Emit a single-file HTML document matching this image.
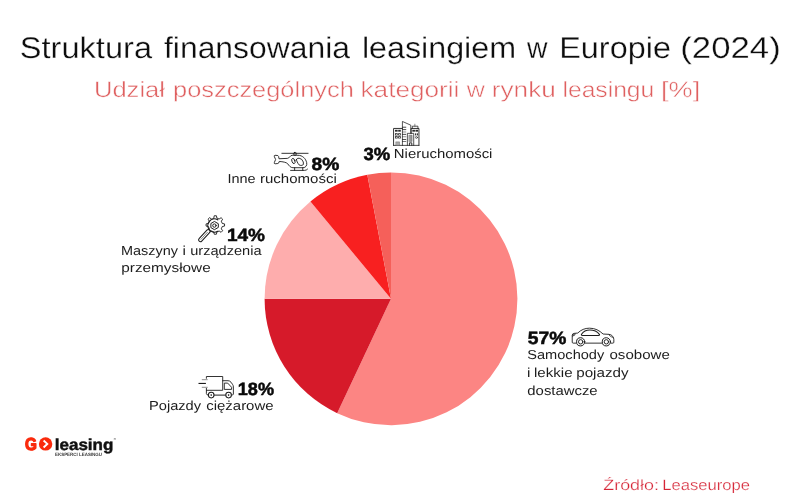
<!DOCTYPE html>
<html lang="pl">
<head>
<meta charset="utf-8">
<title>Struktura finansowania leasingiem w Europie (2024)</title>
<style>
html,body{margin:0;padding:0;background:#fff;}
body{width:800px;height:500px;overflow:hidden;position:relative;font-family:"Liberation Sans",sans-serif;}
svg{position:absolute;left:0;top:0;display:block;will-change:transform;}
text{font-family:"Liberation Sans",sans-serif;text-rendering:geometricPrecision;}
.t{fill:#0d0d0d;}
.lbl{font-size:13px;fill:#1c1c1c;}
.pct{font-size:17.7px;font-weight:bold;fill:#0a0a0a;stroke:#0a0a0a;stroke-width:0.5px;}
.ic{fill:none;stroke:#1d1d1d;stroke-width:0.9;stroke-linecap:round;stroke-linejoin:round;}
</style>
</head>
<body>
<svg width="800" height="500" viewBox="0 0 800 500">
<rect width="800" height="500" fill="#ffffff"/>

<!-- titles -->
<text id="title" class="t" stroke="#fff" stroke-width="0.3" y="57.7" font-size="30"><tspan id="tw0" x="19.80" textLength="132.22" lengthAdjust="spacingAndGlyphs">Struktura</tspan> <tspan id="tw1" x="164.00" textLength="186.00" lengthAdjust="spacingAndGlyphs">finansowania</tspan> <tspan id="tw2" x="361.95" textLength="154.14" lengthAdjust="spacingAndGlyphs">leasingiem</tspan> <tspan id="tw3" x="527.00" textLength="20.50" lengthAdjust="spacingAndGlyphs">w</tspan> <tspan id="tw4" x="559.25" textLength="111.66" lengthAdjust="spacingAndGlyphs">Europie</tspan> <tspan id="tw5" x="680.25" textLength="100.47" lengthAdjust="spacingAndGlyphs">(2024)</tspan></text>
<text id="sub" stroke="#fff" stroke-width="0.45" y="96.7" font-size="22" fill="#DF6060"><tspan id="sw0" x="93.95" textLength="71.05" lengthAdjust="spacingAndGlyphs">Udział</tspan> <tspan id="sw1" x="173.00" textLength="180.83" lengthAdjust="spacingAndGlyphs">poszczególnych</tspan> <tspan id="sw2" x="360.50" textLength="98.92" lengthAdjust="spacingAndGlyphs">kategorii</tspan> <tspan id="sw3" x="466.75" textLength="18.01" lengthAdjust="spacingAndGlyphs">w</tspan> <tspan id="sw4" x="491.80" textLength="64.00" lengthAdjust="spacingAndGlyphs">rynku</tspan> <tspan id="sw5" x="562.45" textLength="91.85" lengthAdjust="spacingAndGlyphs">leasingu</tspan> <tspan id="sw6" x="661.00" textLength="39.20" lengthAdjust="spacingAndGlyphs">[%]</tspan></text>

<!-- pie -->
<g id="pie">
<path d="M391.0,298.8 L391.00,172.40 A126.4,126.4 0 1 1 337.18,413.17 Z" fill="#FC8583"/>
<path d="M391.0,298.8 L337.18,413.17 A126.4,126.4 0 0 1 264.60,298.80 Z" fill="#D61A2A"/>
<path d="M391.0,298.8 L264.60,298.80 A126.4,126.4 0 0 1 310.43,201.41 Z" fill="#FEADAD"/>
<path d="M391.0,298.8 L310.43,201.41 A126.4,126.4 0 0 1 367.32,174.64 Z" fill="#F82020"/>
<path d="M391.0,298.8 L367.32,174.64 A126.4,126.4 0 0 1 391.00,172.40 Z" fill="#F5605A"/>
</g>

<!-- labels -->
<text id="p3" class="pct" x="363.50" y="159.6" textLength="26.75" lengthAdjust="spacingAndGlyphs">3%</text>
<text id="l3" class="lbl" x="393.85" y="158" textLength="98.57" lengthAdjust="spacingAndGlyphs">Nieruchomości</text>

<text id="p8" class="pct" x="311.45" y="169.8" textLength="27.81" lengthAdjust="spacingAndGlyphs">8%</text>
<text id="l8" class="lbl" y="183"><tspan id="l8w0" x="227.50" textLength="28.13" lengthAdjust="spacingAndGlyphs">Inne</tspan> <tspan id="l8w1" x="260.00" textLength="76.79" lengthAdjust="spacingAndGlyphs">ruchomości</tspan></text>

<text id="p14" class="pct" x="226.95" y="241.1" textLength="38.03" lengthAdjust="spacingAndGlyphs">14%</text>
<text id="l14a" class="lbl" y="254.7"><tspan id="l14aw0" x="121.00" textLength="57.02" lengthAdjust="spacingAndGlyphs">Maszyny</tspan> <tspan id="l14aw1" x="182.4" textLength="3.4" lengthAdjust="spacingAndGlyphs">i</tspan> <tspan id="l14aw2" x="190.25" textLength="71.26" lengthAdjust="spacingAndGlyphs">urządzenia</tspan></text>
<text id="l14b" class="lbl" x="121.35" y="272.2" textLength="89.31" lengthAdjust="spacingAndGlyphs">przemysłowe</text>

<text id="p18" class="pct" x="237.75" y="394.8" textLength="36.22" lengthAdjust="spacingAndGlyphs">18%</text>
<text id="l18" class="lbl" y="409.8"><tspan id="l18w0" x="149.00" textLength="52.02" lengthAdjust="spacingAndGlyphs">Pojazdy</tspan> <tspan id="l18w1" x="206.25" textLength="67.27" lengthAdjust="spacingAndGlyphs">ciężarowe</tspan></text>

<text id="p57" class="pct" x="527.75" y="344.1" textLength="38.51" lengthAdjust="spacingAndGlyphs">57%</text>
<text id="l57a" class="lbl" y="359"><tspan id="l57aw0" x="527.25" textLength="77.01" lengthAdjust="spacingAndGlyphs">Samochody</tspan> <tspan id="l57aw1" x="609.50" textLength="60.27" lengthAdjust="spacingAndGlyphs">osobowe</tspan></text>
<text id="l57b" class="lbl" y="376.5"><tspan id="l57bw0" x="527.0" textLength="3.4" lengthAdjust="spacingAndGlyphs">i</tspan> <tspan id="l57bw1" x="534.00" textLength="38.56" lengthAdjust="spacingAndGlyphs">lekkie</tspan> <tspan id="l57bw2" x="576.25" textLength="52.26" lengthAdjust="spacingAndGlyphs">pojazdy</tspan></text>
<text id="l57c" class="lbl" x="527.35" y="394.5" textLength="70.30" lengthAdjust="spacingAndGlyphs">dostawcze</text>

<!-- source -->
<text id="src" y="489.7" font-size="15" fill="#D62536" stroke="#fff" stroke-width="0.25"><tspan id="sr0" x="603.25" textLength="55.68" lengthAdjust="spacingAndGlyphs">Źródło:</tspan> <tspan id="sr1" x="662.30" textLength="87.80" lengthAdjust="spacingAndGlyphs">Leaseurope</tspan></text>

<!-- logo -->
<g id="logo">
<text id="lg" x="25.1" y="449.6" font-size="17.5" font-weight="bold" fill="#FA2A0C" stroke="#FA2A0C" stroke-width="1.3" stroke-linejoin="round" textLength="11.9" lengthAdjust="spacingAndGlyphs">G</text>
<circle id="lo" cx="45.6" cy="443.9" r="6.7" fill="#FA2A0C"/>
<path d="M43.6,440.5 L47.3,443.9 L43.6,447.5" fill="none" stroke="#ffffff" stroke-width="1.9" stroke-linejoin="miter"/>
<text id="leasing" x="54.75" y="450.1" font-size="15.9" font-weight="bold" fill="#111" stroke="#111" stroke-width="0.45" textLength="58.63" lengthAdjust="spacingAndGlyphs">leasing</text>
<text id="reg" x="113.8" y="440.2" font-size="3" fill="#333">®</text>
<text id="eksp" x="55.00" y="456.2" font-size="4.6" font-weight="bold" fill="#3a3a3a" textLength="47.00" lengthAdjust="spacingAndGlyphs">EKSPERCI LEASINGU</text>
</g>

<!-- ICONS -->
<g id="ico-building" class="ic" stroke-width="0.55" stroke="#2a2a2a" stroke-linecap="butt" stroke-linejoin="miter">
<path d="M393.58,145.39 L418.95,145.39" stroke-width="0.8"/>
<path d="M393.58,145.39 L393.58,128.45 L402.42,128.45"/>
<path d="M402.42,145.39 L402.42,121.44 L410.79,125.18 L410.79,133.35" stroke-width="0.75"/>
<path d="M402.42,127.22 L405.82,127.22" stroke-width="0.8"/>
<path d="M402.42,129.61 L405.82,129.61" stroke-width="0.8"/>
<path d="M402.42,131.99 L405.82,131.99" stroke-width="0.5"/>
<path d="M402.42,134.37 L405.82,134.37" stroke-width="0.8"/>
<path d="M402.42,136.75 L405.82,136.75" stroke-width="0.5"/>
<path d="M402.42,139.47 L405.82,139.47" stroke-width="0.8"/>
<path d="M402.42,141.51 L405.82,141.51" stroke-width="0.6"/>
<path d="M407.39,145.39 L407.39,133.35 L413.71,133.35 L413.71,145.39" stroke-width="0.75"/>
<rect x="409.22" y="135.18" width="2.86" height="6.26" fill="#999" stroke="#444" stroke-width="0.4"/>
<path d="M409.43,145.39 L409.43,142.87 L411.81,142.87 L411.81,145.39"/>
<path d="M411.13,133.35 L411.13,128.45 L418.95,128.45 L418.95,145.39"/>
<path d="M412.35,128.45 L412.35,126.20 L417.93,126.20 L417.93,128.45" stroke-width="0.75"/>
<path d="M414.87,126.20 L414.87,124.16" stroke-width="0.5"/>
<rect x="395.01" y="129.81" width="2.65" height="1.84" fill="#2a2a2a" stroke="none"/>
<rect x="395.01" y="133.21" width="2.65" height="2.24" fill="#2a2a2a" stroke="none"/>
<rect x="395.82" y="133.96" width="1.02" height="0.88" fill="#fff" stroke="none"/>
<rect x="395.01" y="136.14" width="2.65" height="2.31" fill="#2a2a2a" stroke="none"/>
<rect x="395.82" y="136.88" width="1.02" height="0.95" fill="#fff" stroke="none"/>
<rect x="398.20" y="129.81" width="2.59" height="1.84" fill="#2a2a2a" stroke="none"/>
<rect x="398.20" y="133.21" width="2.59" height="2.24" fill="#2a2a2a" stroke="none"/>
<rect x="399.02" y="133.96" width="0.95" height="0.88" fill="#fff" stroke="none"/>
<rect x="398.20" y="136.14" width="2.59" height="2.31" fill="#2a2a2a" stroke="none"/>
<rect x="399.02" y="136.88" width="0.95" height="0.95" fill="#fff" stroke="none"/>
<rect x="396.03" y="141.85" width="3.54" height="3.54" fill="#aaa" stroke="#555" stroke-width="0.4"/>
<rect x="412.35" y="129.81" width="2.59" height="1.84" fill="#2a2a2a" stroke="none"/>
<rect x="415.48" y="129.81" width="2.59" height="1.84" fill="#2a2a2a" stroke="none"/>
<rect x="415.07" y="133.35" width="1.09" height="2.04" fill="#2a2a2a" stroke="none"/>
<rect x="416.84" y="133.35" width="1.09" height="2.04" fill="#2a2a2a" stroke="none"/>
<circle cx="416.44" cy="137.43" r="1.0" stroke-width="0.6"/>
</g>
<g id="ico-heli" class="ic" stroke="#101010" stroke-width="1.2">
<path d="M281.87,153.32 L308.08,153.32"/>
<rect x="293.80" y="152.48" width="2.41" height="2.69" rx="0.7"/>
<path d="M278.96,158.36 Q278.85,155.84 277.84,155.56 L275.04,155.28 Q273.92,155.39 274.37,156.68 L275.60,159.48 L274.37,162.45 Q273.92,163.79 275.15,163.79 L277.84,163.51 Q278.96,163.40 279.24,161.44 C282.88,161.72 286.24,162.28 287.64,163.68 C289.04,165.64 290.44,167.71 292.96,167.71 L303.04,167.71 C305.84,167.71 307.24,165.36 306.68,162.67 C305.84,158.64 302.48,155.28 298.00,155.28 L292.12,155.28 C290.16,155.28 289.32,158.36 287.92,158.36 Z"/>
<ellipse cx="293.41" cy="160.99" rx="1.5" ry="2.7" transform="rotate(-20 293.41 160.99)"/>
<path d="M296.43,159.48 Q296.88,157.97 299.12,158.19 Q302.20,158.64 303.32,162.00 Q304.16,165.36 301.92,165.36 L300.24,165.36 Q298.84,165.25 298.00,163.40 Q296.21,160.60 296.43,159.48 Z"/>
<path d="M294.64,167.71 L294.64,170.40 M302.76,167.71 L302.76,170.40"/>
<path d="M290.61,170.40 L304.44,170.40 Q306.40,170.40 307.52,169.17"/>
</g>
<g id="ico-gear" class="ic" stroke="#0c0c0c" stroke-width="1.15">
<path d="M213.78,218.06 L214.23,215.76 L216.42,215.76 L216.88,218.06 L219.13,219.00 L221.09,217.69 L222.63,219.23 L221.32,221.19 L222.26,223.44 L224.56,223.90 L224.56,226.09 L222.26,226.54 L221.32,228.80 L222.63,230.75 L221.09,232.30 L219.13,230.99 L216.88,231.92 L216.42,234.23 L214.23,234.23 L213.78,231.92 L211.52,230.99 L209.57,232.30 L208.02,230.75 L209.33,228.80 L208.40,226.54 L206.09,226.09 L206.09,223.90 L208.40,223.44 L209.33,221.19 L208.02,219.23 L209.57,217.69 L211.52,219.00 Z"/>
<path d="M217.73,231.28 A6.6,6.6 0 1 1 217.73,219.85" stroke-width="1.2"/>
<path d="M217.98,227.62 L214.43,229.67 L210.88,227.62 L210.88,223.52 L214.43,221.47 L217.98,223.52 Z" stroke-width="1.0"/>
<circle cx="214.43" cy="225.57" r="1.7" stroke-width="1.0"/>
<rect x="202.52" y="228.08" width="3.6" height="15.13" rx="1.8" fill="#fff" stroke-width="1.05" transform="rotate(42.6 204.32 235.65)"/>
<path d="M204.32,231.08 L204.32,240.61" stroke-width="0.5" transform="rotate(42.6 204.32 235.65)"/>
</g>
<g id="ico-truck" class="ic" stroke="#151515" stroke-width="1.0">
<path d="M206.40,378.30 L206.40,376.50 L222.71,376.50 L222.71,390.30 L206.40,390.30"/>
<path d="M206.40,388.32 L206.40,393.60 Q206.40,395.10 208.32,395.10"/>
<path d="M202.20,379.68 L207.30,379.68 M202.20,387.30 L207.30,387.30" stroke="#808080"/>
<path d="M198.90,383.40 L205.50,383.40" stroke="#000" stroke-width="1"/>
<path d="M222.71,380.70 L227.99,380.70 Q229.79,380.70 230.99,382.20 L232.49,384.30 Q233.39,385.50 233.39,387.00 L233.39,394.20 Q233.39,395.10 231.59,395.10"/>
<path d="M224.69,383.10 L227.69,383.10 L231.59,387.30 L231.59,389.40 L224.69,389.40 Z"/>
<path d="M214.20,395.10 L225.59,395.10" stroke-width="1"/>
<circle cx="211.20" cy="395.10" r="2.8" fill="#fff" stroke-width="1.05"/>
<circle cx="211.20" cy="395.10" r="0.8" fill="#111" stroke="none"/>
<circle cx="228.59" cy="395.10" r="2.8" fill="#fff" stroke-width="1.05"/>
<circle cx="228.59" cy="395.10" r="0.8" fill="#111" stroke="none"/>
</g>
<g id="ico-car" class="ic" stroke="#101010" stroke-width="1.1">
<path d="M576.13,343.13 L573.20,343.13 Q572.23,343.13 572.23,342.16 L572.23,335.33 Q572.23,333.57 574.18,333.38 L577.75,333.05 C581.00,329.80 584.91,328.18 589.46,328.18 C595.31,328.18 599.21,330.45 603.11,334.03 L608.96,334.35 C612.21,334.68 613.84,337.28 613.84,339.56 L613.84,342.16 Q613.84,343.13 612.86,343.13 L610.91,343.13"/>
<path d="M585.23,343.13 L601.81,343.13"/>
<path d="M582.63,335.46 Q580.87,335.46 581.52,334.22 C583.60,331.10 586.86,330.06 589.78,330.06 C594.01,330.06 597.39,331.75 599.40,334.35 Q599.99,335.46 598.43,335.46 Z" stroke-width="1.05"/>
<circle cx="580.68" cy="341.83" r="4.1" fill="#fff" stroke-width="1.0"/>
<circle cx="580.68" cy="341.83" r="2.2" stroke-width="0.95"/>
<circle cx="606.36" cy="341.83" r="4.1" fill="#fff" stroke-width="1.0"/>
<circle cx="606.36" cy="341.83" r="2.2" stroke-width="0.95"/>
<path d="M572.68,335.98 Q572.68,334.03 575.28,333.70 Q575.48,335.78 572.68,335.98 Z" stroke-width="0.7"/>
<path d="M608.83,334.87 Q610.26,337.08 613.19,337.60" stroke-width="0.7"/>
</g>
</svg>
</body>
</html>
